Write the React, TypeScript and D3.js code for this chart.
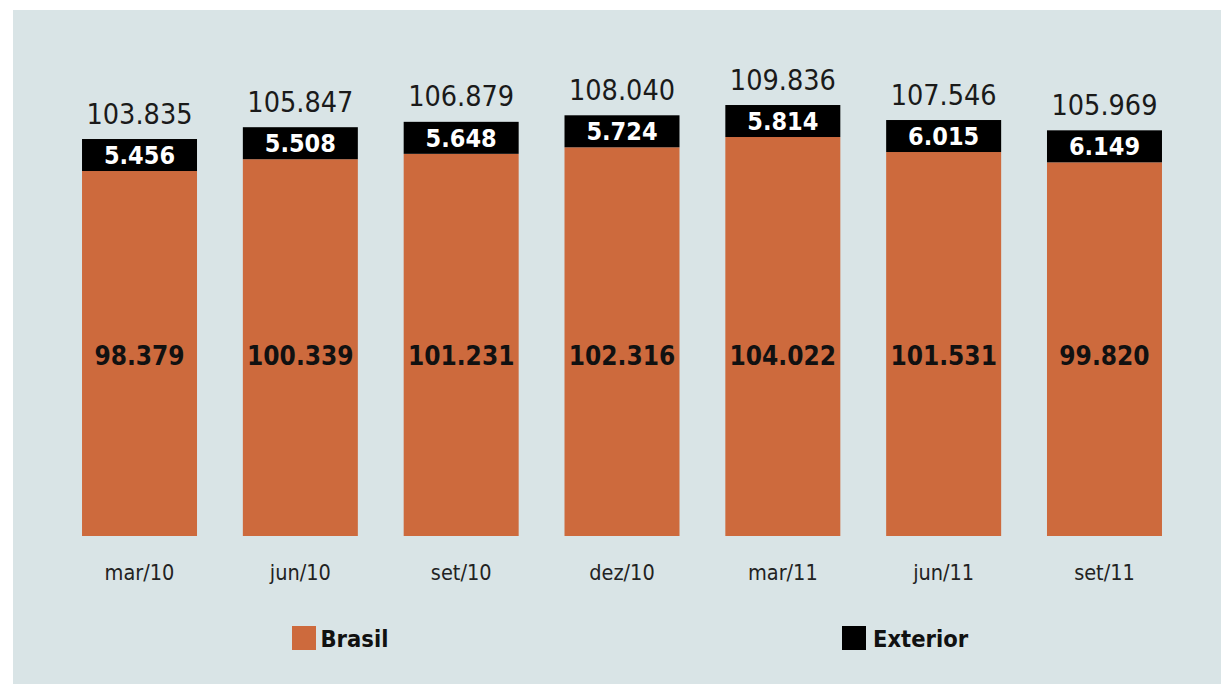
import React from "react";
import * as d3 from "d3";

const categories = ["mar/10", "jun/10", "set/10", "dez/10", "mar/11", "jun/11", "set/11"];
const brasil = [98.379, 100.339, 101.231, 102.316, 104.022, 101.531, 99.82];
const exterior = [5.456, 5.508, 5.648, 5.724, 5.814, 6.015, 6.149];
const totals = [103.835, 105.847, 106.879, 108.04, 109.836, 107.546, 105.969];

const W = 1221;
const H = 684;
const ORANGE = "#cd6a3d";
const BG = "#d9e4e6";
const FONT = "'DejaVu Sans Condensed', 'DejaVu Sans', Verdana, sans-serif";

const fmt = (v: number) => {
  const s = v.toFixed(3);
  return s; // decimal point used as thousands separator in original
};

export default function App() {
  const x = d3
    .scaleBand<string>()
    .domain(categories)
    .range([59.1, 1184.9])
    .paddingInner(0.285)
    .paddingOuter(0.1425);
  const y = d3.scaleLinear().domain([37.8, 110]).range([536, 101]);
  const bandH = 32;
  const bw = x.bandwidth();

  return (
    <svg
      width={W}
      height={H}
      style={{ position: "absolute", left: 0, top: 0, display: "block" }}
      fontFamily={FONT}
    >
      <rect x={0} y={0} width={W} height={H} fill="#ffffff" />
      <rect x={13} y={10} width={W - 13} height={H - 10} fill={BG} />
      {categories.map((c, i) => {
        const x0 = x(c) as number;
        const cx = x0 + bw / 2;
        const yb = y(brasil[i]);
        const yt = yb - bandH;
        return (
          <g key={c}>
            <rect x={x0} y={yb} width={bw} height={y(37.8) - yb} fill={ORANGE} />
            <rect x={x0} y={yt} width={bw} height={bandH} fill="#000" />
            <text
              x={cx}
              y={yt - 15.5}
              textAnchor="middle"
              fontSize={28.5}
              fill="#1a1a1a"
            >
              {fmt(totals[i])}
            </text>
            <text
              x={cx}
              y={yt + 25}
              textAnchor="middle"
              fontSize={25}
              fontWeight="bold"
              fill="#fff"
            >
              {fmt(exterior[i])}
            </text>
            <text
              x={cx}
              y={365}
              textAnchor="middle"
              fontSize={26}
              fontWeight="bold"
              fill="#111"
            >
              {fmt(brasil[i])}
            </text>
            <text
              x={cx}
              y={580}
              textAnchor="middle"
              fontSize={21.5}
              fill="#222"
            >
              {c}
            </text>
          </g>
        );
      })}
      <rect x={292} y={626} width={24} height={24} fill={ORANGE} />
      <text x={320.5} y={647.3} fontSize={23.5} fontWeight="bold" fill="#111">
        Brasil
      </text>
      <rect x={842} y={626} width={24} height={24} fill="#000" />
      <text x={873} y={647.3} fontSize={23.5} fontWeight="bold" fill="#111">
        Exterior
      </text>
    </svg>
  );
}
